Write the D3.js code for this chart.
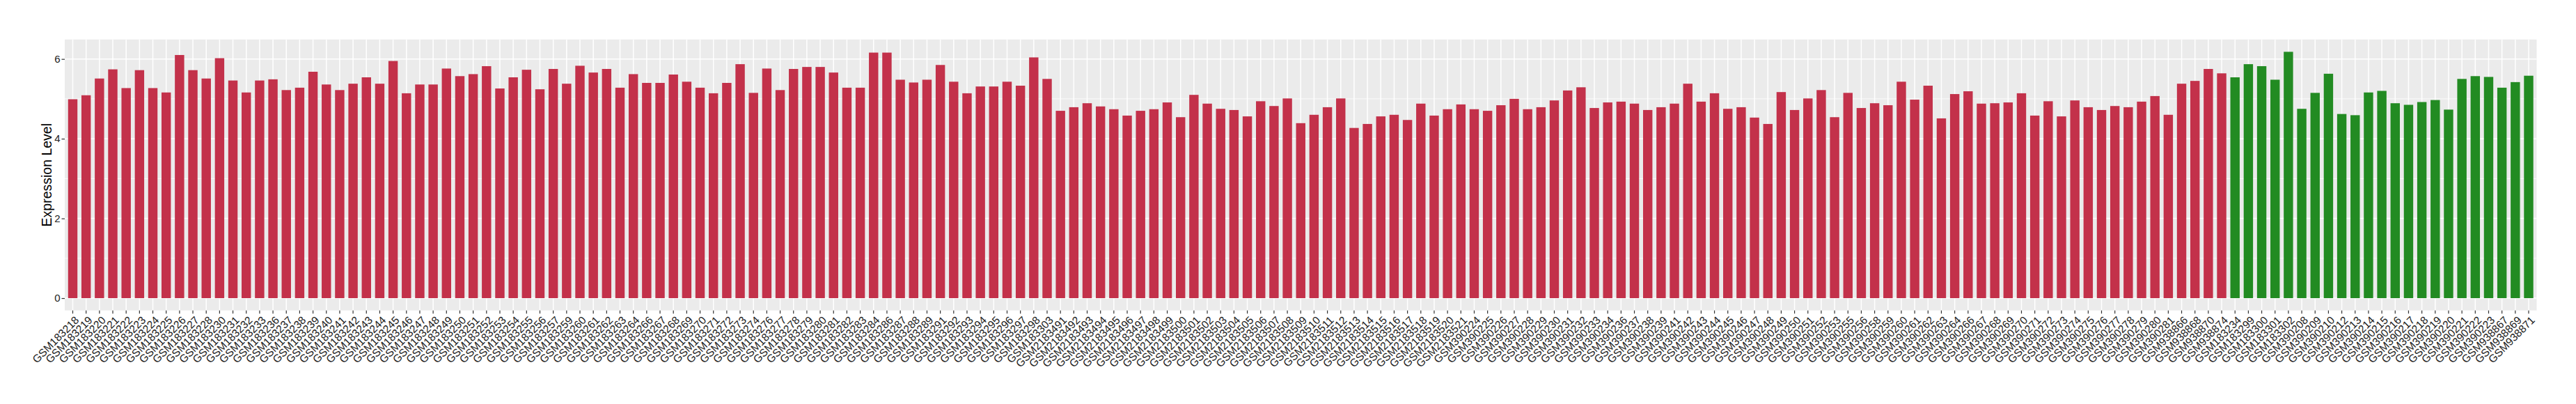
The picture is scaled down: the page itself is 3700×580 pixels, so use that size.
<!DOCTYPE html>
<html>
<head>
<meta charset="utf-8">
<script src="https://cdn.jsdelivr.net/npm/d3@7"></script>
<style>
  body { margin: 0; background: #fff; }
  .chart text { font-family: "Liberation Sans", Arial, sans-serif; }
</style>
</head>
<body>
<div class="chart"></div>
<script>
// Tumor samples (red bars)
var tumorSamples = [
  "GSM183218","GSM183219","GSM183220","GSM183221","GSM183222","GSM183223","GSM183224","GSM183225",
  "GSM183226","GSM183227","GSM183228","GSM183230","GSM183231","GSM183232","GSM183233","GSM183236",
  "GSM183237","GSM183238","GSM183239","GSM183240","GSM183241","GSM183242","GSM183243","GSM183244",
  "GSM183245","GSM183246","GSM183247","GSM183248","GSM183249","GSM183250","GSM183251","GSM183252",
  "GSM183253","GSM183254","GSM183255","GSM183256","GSM183257","GSM183259","GSM183260","GSM183261",
  "GSM183262","GSM183263","GSM183264","GSM183266","GSM183267","GSM183268","GSM183269","GSM183270",
  "GSM183271","GSM183272","GSM183273","GSM183274","GSM183276","GSM183277","GSM183278","GSM183279",
  "GSM183280","GSM183281","GSM183282","GSM183283","GSM183284","GSM183286","GSM183287","GSM183288",
  "GSM183289","GSM183291","GSM183292","GSM183293","GSM183294","GSM183295","GSM183296","GSM183297",
  "GSM183298","GSM183303","GSM2183491","GSM2183492","GSM2183493","GSM2183494","GSM2183495","GSM2183496",
  "GSM2183497","GSM2183498","GSM2183499","GSM2183500","GSM2183501","GSM2183502","GSM2183503","GSM2183504",
  "GSM2183505","GSM2183506","GSM2183507","GSM2183508","GSM2183509","GSM2183510","GSM2183511","GSM2183512",
  "GSM2183513","GSM2183514","GSM2183515","GSM2183516","GSM2183517","GSM2183518","GSM2183519","GSM2183520",
  "GSM2183521","GSM390224","GSM390225","GSM390226","GSM390227","GSM390228","GSM390229","GSM390230",
  "GSM390231","GSM390232","GSM390233","GSM390234","GSM390236","GSM390237","GSM390238","GSM390239",
  "GSM390241","GSM390242","GSM390243","GSM390244","GSM390245","GSM390246","GSM390247","GSM390248",
  "GSM390249","GSM390250","GSM390251","GSM390252","GSM390253","GSM390255","GSM390256","GSM390258",
  "GSM390259","GSM390260","GSM390261","GSM390262","GSM390263","GSM390264","GSM390266","GSM390267",
  "GSM390268","GSM390269","GSM390270","GSM390271","GSM390272","GSM390273","GSM390274","GSM390275",
  "GSM390276","GSM390277","GSM390278","GSM390279","GSM390280","GSM390281","GSM938866","GSM938868",
  "GSM938870","GSM938874"
];
var tumorValues = [
  4.99,5.09,5.51,5.74,5.27,5.72,5.27,5.16, 6.10,5.72,5.51,6.02,5.46,5.16,5.46,5.49,
  5.22,5.28,5.68,5.36,5.22,5.38,5.54,5.38, 5.95,5.14,5.36,5.36,5.76,5.57,5.62,5.82,
  5.26,5.54,5.73,5.24,5.75,5.38,5.83,5.66, 5.75,5.28,5.62,5.40,5.40,5.61,5.43,5.28,
  5.14,5.40,5.87,5.15,5.76,5.22,5.75,5.80, 5.80,5.66,5.28,5.28,6.16,6.16,5.48,5.41,
  5.48,5.85,5.43,5.14,5.31,5.31,5.43,5.33, 6.04,5.50,4.70,4.79,4.89,4.81,4.74,4.58,
  4.70,4.74,4.91,4.54,5.10,4.88,4.75,4.72, 4.56,4.94,4.82,5.01,4.39,4.60,4.79,5.01,
  4.27,4.37,4.56,4.60,4.47,4.88,4.58,4.74, 4.86,4.74,4.70,4.84,5.00,4.74,4.79,4.96,
  5.21,5.29,4.77,4.91,4.93,4.88,4.72,4.79, 4.88,5.38,4.93,5.14,4.75,4.79,4.53,4.37,
  5.17,4.72,5.01,5.22,4.54,5.15,4.77,4.89, 4.84,5.43,4.98,5.33,4.51,5.12,5.19,4.88,
  4.89,4.91,5.14,4.58,4.94,4.56,4.96,4.79, 4.72,4.82,4.79,4.93,5.07,4.60,5.38,5.45,
  5.75,5.64
];

// Normal samples (green bars)
var normalSamples = [
  "GSM183234","GSM183299","GSM183300","GSM183301","GSM183302","GSM390208","GSM390209","GSM390210",
  "GSM390212","GSM390213","GSM390214","GSM390215","GSM390216","GSM390217","GSM390218","GSM390219",
  "GSM390220","GSM390221","GSM390222","GSM390223","GSM938867","GSM938869","GSM938871"
];
var normalValues = [
  5.54,5.87,5.82,5.48,6.18,4.75,5.15,5.63,
  4.62,4.59,5.16,5.20,4.89,4.85,4.92,4.97,
  4.73,5.50,5.57,5.55,5.28,5.42,5.58
];

var yTicks = [0, 2, 4, 6];
var yLabel = "Expression Level";

var svgWidth = 3700;
var svgHeight = 580;

var margin = {
  top: 56.7,
  right: 56.5,
  bottom: 134.3,
  left: 93
};

var width = svgWidth - margin.left - margin.right;
var height = svgHeight - margin.top - margin.bottom;

var svg = d3.select(".chart")
  .append("svg")
  .attr("width", svgWidth)
  .attr("height", svgHeight);

var chartGroup = svg.append("g")
  .attr("transform", `translate(${margin.left}, ${margin.top})`);

// table of bars
var barData = tumorSamples.map(function(s, i) {
  return { sample: s, value: tumorValues[i], group: "tumor" };
}).concat(normalSamples.map(function(s, i) {
  return { sample: s, value: normalValues[i], group: "normal" };
}));

var colors = { tumor: "#C3314A", normal: "#228B22" };

// scales (ggplot style expansion)
var yMax = d3.max(barData, d => d.value);
var yPad = yMax * 0.05;

var xBandScale = d3.scaleBand()
  .domain(barData.map(d => d.sample))
  .range([0, width])
  .paddingInner(0.3)
  .paddingOuter(0.25);

var yLinearScale = d3.scaleLinear()
  .domain([-yPad, yMax + yPad])
  .range([height, 0]);

// panel background
chartGroup.append("rect")
  .attr("width", width)
  .attr("height", height)
  .attr("fill", "#EBEBEB");

// minor grid
chartGroup.selectAll(".minor")
  .data([1, 3, 5])
  .enter()
  .append("line")
  .attr("x1", 0)
  .attr("x2", width)
  .attr("y1", d => yLinearScale(d))
  .attr("y2", d => yLinearScale(d))
  .attr("stroke", "#fff")
  .attr("stroke-width", 0.8);

// major grid
chartGroup.selectAll(".hmajor")
  .data(yTicks)
  .enter()
  .append("line")
  .attr("x1", 0)
  .attr("x2", width)
  .attr("y1", d => yLinearScale(d))
  .attr("y2", d => yLinearScale(d))
  .attr("stroke", "#fff")
  .attr("stroke-width", 1.5);

chartGroup.selectAll(".vmajor")
  .data(barData)
  .enter()
  .append("line")
  .attr("x1", d => xBandScale(d.sample) + xBandScale.bandwidth() / 2)
  .attr("x2", d => xBandScale(d.sample) + xBandScale.bandwidth() / 2)
  .attr("y1", 0)
  .attr("y2", height)
  .attr("stroke", "#fff")
  .attr("stroke-width", 1.5);

// bars
chartGroup.selectAll(".bar")
  .data(barData)
  .enter()
  .append("rect")
  .attr("x", d => xBandScale(d.sample))
  .attr("width", xBandScale.bandwidth())
  .attr("y", d => yLinearScale(d.value))
  .attr("height", d => yLinearScale(0) - yLinearScale(d.value))
  .attr("fill", d => colors[d.group]);

// axes
var leftAxis = d3.axisLeft(yLinearScale)
  .tickValues(yTicks)
  .tickFormat(d3.format("d"))
  .tickSize(4.5)
  .tickPadding(2);

var yAxisG = chartGroup.append("g").call(leftAxis);
yAxisG.select(".domain").remove();
yAxisG.selectAll("line").attr("stroke", "#333").attr("stroke-width", 1.2);
yAxisG.selectAll("text")
  .attr("fill", "#222")
  .style("font-size", "15px");

var bottomAxis = d3.axisBottom(xBandScale)
  .tickSize(4.5)
  .tickPadding(2);

var xAxisG = chartGroup.append("g")
  .attr("transform", `translate(0, ${height})`)
  .call(bottomAxis);
xAxisG.select(".domain").remove();
xAxisG.selectAll("line").attr("stroke", "#333").attr("stroke-width", 1.2);
xAxisG.selectAll("text")
  .attr("fill", "#222")
  .style("font-size", "15.5px")
  .attr("text-anchor", "end")
  .attr("dy", null)
  .attr("y", 0)
  .attr("transform", "translate(2, 7) rotate(-45)")
  .attr("dominant-baseline", "hanging");

// y axis label
chartGroup.append("text")
  .attr("transform", "rotate(-90)")
  .attr("x", 0 - (yLinearScale(0) + yLinearScale(yMax)) / 2)
  .attr("y", -19)
  .attr("text-anchor", "middle")
  .attr("fill", "#000")
  .style("font-size", "19.5px")
  .text(yLabel);
</script>
</body>
</html>
